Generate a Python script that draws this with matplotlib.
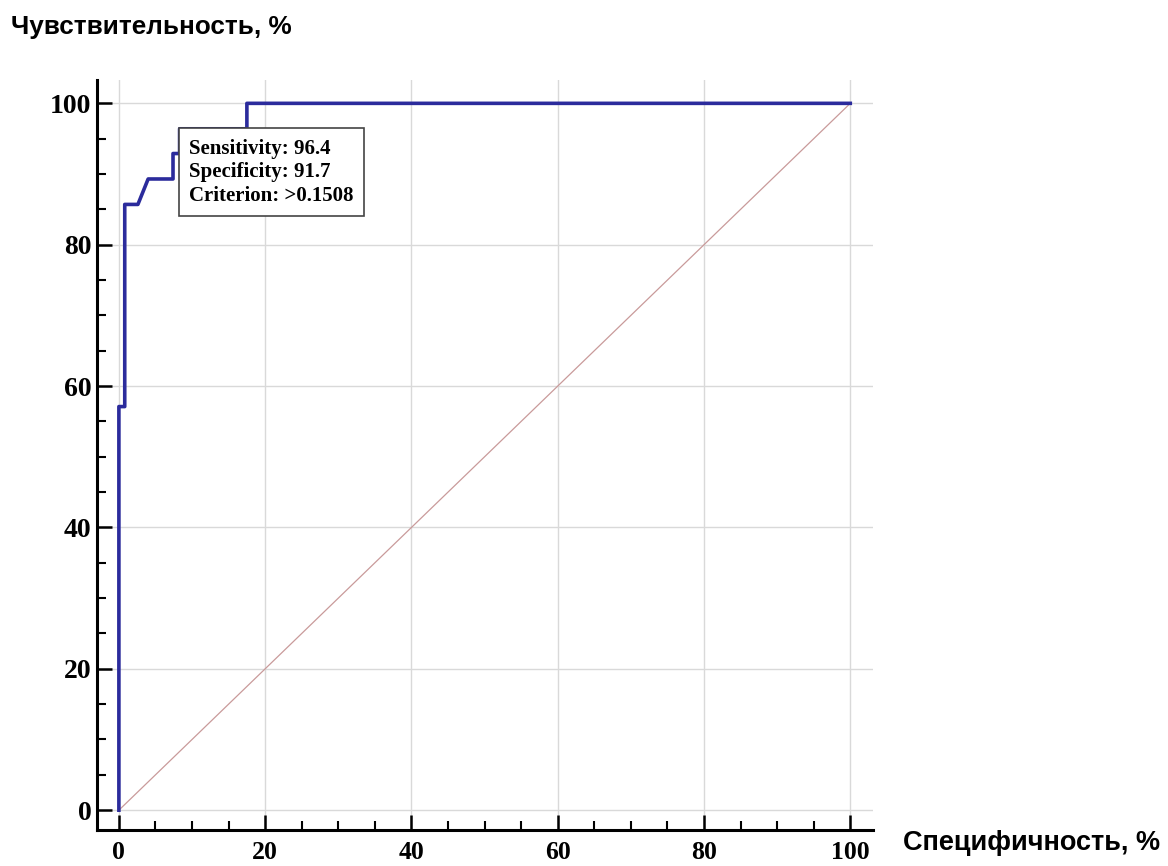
import matplotlib.pyplot as plt
from matplotlib.ticker import MultipleLocator

# ROC curve points (1 - specificity, sensitivity), %
fpr = [0, 0, 0.8, 0.8, 2.6, 4.0, 7.4, 7.4, 8.3, 8.3, 17.5, 17.5, 100]
tpr = [0, 57.1, 57.1, 85.7, 85.7, 89.3, 89.3, 92.9, 92.9, 96.4, 96.4, 100, 100]
diag = [0, 100]
ticks = [0, 20, 40, 60, 80, 100]
cut_x, cut_y = 8.3, 96.4
info = "Sensitivity: 96.4\nSpecificity: 91.7\nCriterion: >0.1508"

fig = plt.figure(figsize=(11.68, 8.66), dpi=100)
ax = fig.add_axes([0.083, 0.0416, 0.6644, 0.866])

ax.plot(diag, diag, color="#c99a9a", lw=0.9, zorder=2)
ax.plot(fpr, tpr, color="#2b2b9c", lw=2.6, zorder=3)

ax.set_xlim(-3.0, 103.1)
ax.set_ylim(-2.8, 103.3)
ax.set_xticks(ticks)
ax.set_yticks(ticks)
ax.xaxis.set_minor_locator(MultipleLocator(5))
ax.yaxis.set_minor_locator(MultipleLocator(5))
ax.grid(True, which="major", color="#d9d9d9", lw=1)
ax.set_axisbelow(True)

for s in ["top", "right"]:
    ax.spines[s].set_visible(False)
for s in ["left", "bottom"]:
    ax.spines[s].set_linewidth(2.2)

ax.tick_params(which="major", direction="in", length=11, width=1.8)
ax.tick_params(which="minor", direction="in", length=6.5, width=1.5)
ax.tick_params(axis="x", which="major", pad=8)
ax.tick_params(axis="y", which="major", pad=4)
for lab in ax.get_yticklabels():
    lab.set_fontfamily("Liberation Serif")
    lab.set_fontweight("bold")
    lab.set_fontsize(20)
for lab in ax.get_xticklabels():
    lab.set_fontfamily("Liberation Serif")
    lab.set_fontweight("bold")
    lab.set_fontsize(18.5)

# info box hangs from the cut-off point
ax.annotate(info, xy=(cut_x, cut_y), xytext=(7, -7), textcoords="offset points",
            ha="left", va="top", fontsize=15, fontfamily="Liberation Serif",
            fontweight="bold", linespacing=1.25,
            bbox=dict(boxstyle="square,pad=0.5", fc="white", ec="#444444", lw=1.2),
            zorder=5)

fig.text(0.009, 0.969, "Чувствительность, %", ha="left", va="center",
         fontsize=18.8, fontweight="bold", fontfamily="Liberation Sans")
fig.text(0.773, 0.027, "Специфичность, %", ha="left", va="center",
         fontsize=19.5, fontweight="bold", fontfamily="Liberation Sans")

plt.savefig("out.png", dpi=100)
plt.close()
